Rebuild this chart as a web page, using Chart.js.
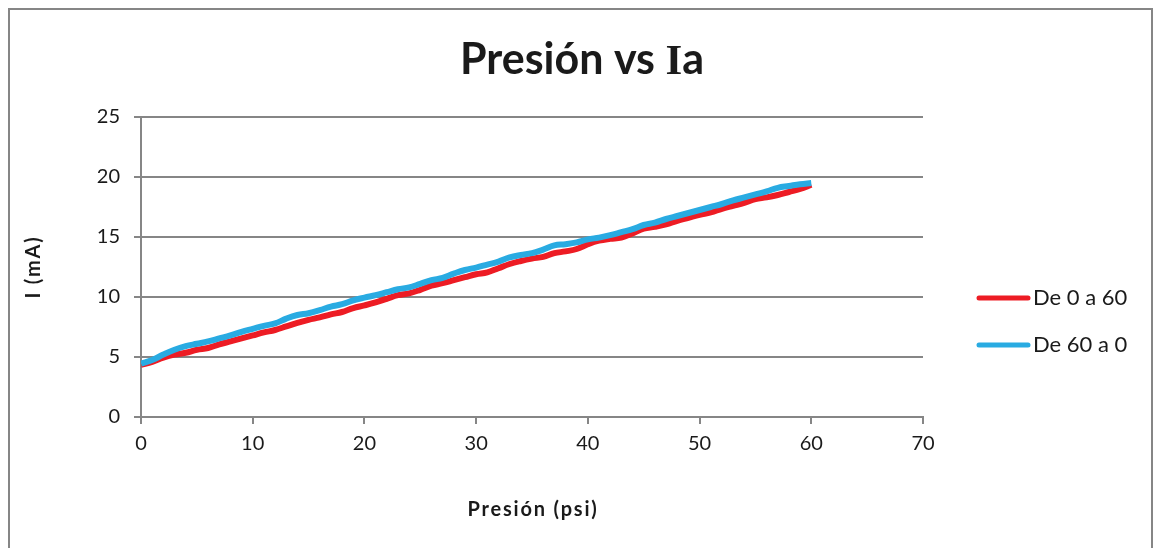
<!DOCTYPE html>
<html>
<head>
<meta charset="utf-8">
<script src="https://cdn.jsdelivr.net/npm/chart.js@4.4.1/dist/chart.umd.min.js"></script>
<style>
  html, body { margin: 0; background: #fff; }
</style>
</head>
<body>
<canvas id="grafica" width="1161" height="548"></canvas>
<script>
// Presión (psi) de cada lectura
const presion = [
  0, 1, 2, 3, 4, 5, 6, 7, 8, 9,
  10, 11, 12, 13, 14, 15, 16, 17, 18, 19,
  20, 21, 22, 23, 24, 25, 26, 27, 28, 29,
  30, 31, 32, 33, 34, 35, 36, 37, 38, 39,
  40, 41, 42, 43, 44, 45, 46, 47, 48, 49,
  50, 51, 52, 53, 54, 55, 56, 57, 58, 59, 60
];

// Corriente (mA) subiendo la presión
const subida = [
  4.35, 4.6, 4.95, 5.2, 5.35, 5.6, 5.75, 6.05, 6.3, 6.55,
  6.8, 7.05, 7.25, 7.55, 7.85, 8.1, 8.3, 8.55, 8.75, 9.08,
  9.3, 9.55, 9.85, 10.15, 10.3, 10.6, 10.95, 11.15, 11.4, 11.65,
  11.9, 12.05, 12.4, 12.75, 13.0, 13.2, 13.35, 13.65, 13.8, 14.0,
  14.4, 14.7, 14.85, 14.95, 15.3, 15.7, 15.85, 16.05, 16.35, 16.6,
  16.85, 17.05, 17.35, 17.6, 17.85, 18.15, 18.3, 18.5, 18.75, 19.0, 19.35
];

// Corriente (mA) bajando la presión
const bajada = [
  4.45, 4.75, 5.2, 5.6, 5.9, 6.1, 6.3, 6.55, 6.8, 7.1,
  7.35, 7.6, 7.8, 8.2, 8.5, 8.65, 8.9, 9.2, 9.4, 9.72,
  9.95, 10.15, 10.4, 10.65, 10.8, 11.1, 11.4, 11.6, 11.95, 12.25,
  12.45, 12.7, 12.95, 13.3, 13.5, 13.65, 13.95, 14.3, 14.4, 14.55,
  14.8, 14.95, 15.15, 15.4, 15.65, 16.0, 16.2, 16.5, 16.75, 17.0,
  17.25, 17.5, 17.75, 18.05, 18.3, 18.55, 18.8, 19.1, 19.25, 19.4, 19.5
];

const etiquetas = ['De 0 a 60', 'De 60 a 0'];
const colores = ['#ED1C24', '#29ABE2'];

const gris = '#868686';
const texto = '#1a1a1a';

const puntos = serie => presion.map((p, i) => ({ x: p, y: serie[i] }));

// marco, título, títulos de ejes y leyenda dibujados a mano
const decorado = {
  id: 'decorado',
  beforeDraw(chart) {
    const ctx = chart.ctx;
    ctx.save();
    ctx.fillStyle = '#fff';
    ctx.fillRect(0, 0, chart.width, chart.height);
    ctx.strokeStyle = gris;
    ctx.lineWidth = 2;
    ctx.strokeRect(9, 9, 1143, 560);
    ctx.restore();
  },
  afterDraw(chart) {
    const ctx = chart.ctx;
    ctx.save();

    // título con la I en serif
    const partes = [
      ['Presión vs ', 'bold 43px Lato'],
      ['I', 'bold 43px "Liberation Serif"'],
      ['a', 'bold 43px Lato']
    ];
    let ancho = 0;
    partes.forEach(([t, f]) => { ctx.font = f; ancho += ctx.measureText(t).width; });
    let x = 582 - ancho / 2;
    ctx.fillStyle = texto;
    ctx.textBaseline = 'alphabetic';
    ctx.textAlign = 'left';
    partes.forEach(([t, f]) => {
      ctx.font = f;
      ctx.fillText(t, x, 74);
      x += ctx.measureText(t).width;
    });

    // títulos de ejes
    ctx.font = 'bold 20px Lato';
    ctx.letterSpacing = '1.8px';
    ctx.textAlign = 'center';
    ctx.textBaseline = 'middle';
    const area = chart.chartArea;
    ctx.fillText('Presión (psi)', (area.left + area.right) / 2 + 1, 510);
    ctx.save();
    ctx.translate(34, (area.top + area.bottom) / 2);
    ctx.rotate(-Math.PI / 2);
    ctx.fillText('I (mA)', 0, 0);
    ctx.restore();
    ctx.letterSpacing = '0px';

    // leyenda
    ctx.font = '22px Lato';
    ctx.textAlign = 'left';
    chart.data.datasets.forEach((ds, i) => {
      const y = 298 + i * 47;
      ctx.strokeStyle = ds.borderColor;
      ctx.lineWidth = 5;
      ctx.lineCap = 'round';
      ctx.beginPath();
      ctx.moveTo(979, y);
      ctx.lineTo(1028, y);
      ctx.stroke();
      ctx.fillStyle = texto;
      ctx.fillText(ds.label, 1033, y);
    });

    ctx.restore();
  }
};

new Chart(document.getElementById('grafica'), {
  type: 'line',
  data: {
    datasets: [
      {
        label: etiquetas[0],
        data: puntos(subida),
        borderColor: colores[0],
        backgroundColor: colores[0],
        borderWidth: 6,
        tension: 0.4,
        pointRadius: 0,
        order: 1
      },
      {
        label: etiquetas[1],
        data: puntos(bajada),
        borderColor: colores[1],
        backgroundColor: colores[1],
        borderWidth: 6,
        tension: 0.4,
        pointRadius: 0,
        order: 0
      }
    ]
  },
  options: {
    responsive: false,
    animation: false,
    layout: { padding: { top: 117, right: 238, bottom: 0, left: 0 } },
    scales: {
      x: {
        type: 'linear',
        min: 0,
        max: 70,
        afterFit: s => { s.height = 131; },
        ticks: { stepSize: 10, padding: 8, color: texto, font: { family: 'Lato', size: 20 } },
        grid: { drawOnChartArea: false, tickLength: 7, color: gris, lineWidth: 2 },
        border: { color: gris, width: 2 }
      },
      y: {
        min: 0,
        max: 25,
        afterFit: s => { s.width = 141; },
        ticks: { stepSize: 5, padding: 14, color: texto, font: { family: 'Lato', size: 20 } },
        grid: { tickLength: 7, color: gris, lineWidth: 2 },
        border: { color: gris, width: 2 }
      }
    },
    plugins: {
      legend: { display: false },
      title: { display: false },
      tooltip: { enabled: false }
    }
  },
  plugins: [decorado]
});
</script>
</body>
</html>
